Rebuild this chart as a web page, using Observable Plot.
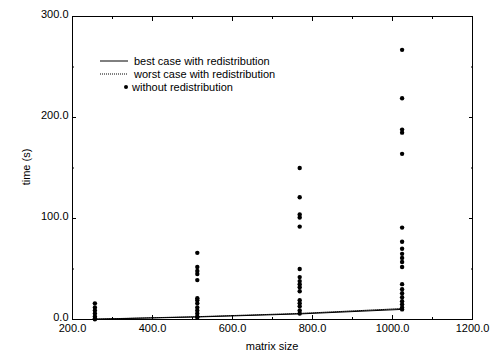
<!DOCTYPE html>
<html><head><meta charset="utf-8">
<script src="https://cdn.jsdelivr.net/npm/d3@7"></script>
<script src="https://cdn.jsdelivr.net/npm/@observablehq/plot@0.6"></script>
<style>body{margin:0;background:#fff}#c{position:relative;width:490px;height:354px}</style>
</head><body><div id="c"></div>
<script>
const sizes = [256, 512, 768, 1024];
const bestCase = [0.3, 2.5, 5.5, 10];
const worstCase = [0.4, 2.8, 6, 10.8];
const without256 = [16, 12, 9, 6, 3, 1, 0.3];
const without512 = [66, 52, 48, 45, 39, 21, 19, 16, 12, 9, 6, 3, 2];
const without768 = [150, 121, 104, 101, 92, 50, 42, 38, 35, 32, 28, 19, 16, 13, 9, 6];
const without1024 = [267, 219, 188, 185, 164, 91, 77, 70, 65, 61, 57, 52, 35, 30, 26, 22, 18, 15, 12, 10];
const xTicks = [200, 400, 600, 800, 1000, 1200];
const xMinor = [300, 500, 700, 900, 1100];
const yTicks = [0, 100, 200, 300];
const yMinor = [50, 150, 250];
const legendLabels = ["best case with redistribution", "worst case with redistribution", "without redistribution"];

const withoutAll = [without256, without512, without768, without1024];
const dots = sizes.flatMap((s, i) => withoutAll[i].map(v => ({x: s, y: v})));
const best = sizes.map((s, i) => ({x: s, y: bestCase[i]}));
const worst = sizes.map((s, i) => ({x: s, y: worstCase[i]}));
const fmt = d3.format(".1f");
const font = "Liberation Sans, Arial, sans-serif";

const plot = Plot.plot({
  width: 490, height: 354,
  marginLeft: 72, marginRight: 18, marginTop: 16, marginBottom: 35,
  style: {fontFamily: font, fontSize: "11px", background: "#fff", color: "#000"},
  x: {domain: [200, 1200], axis: null},
  y: {domain: [0, 300], axis: null},
  marks: [
    Plot.frame({stroke: "#000", strokeWidth: 1}),
    Plot.axisX({ticks: xTicks, tickSize: 0, tickPadding: 5, tickFormat: fmt, label: null, anchor: "bottom", fontSize: 11}),
    Plot.axisX({ticks: xTicks, tickSize: -4, text: null, label: null, anchor: "bottom"}),
    Plot.axisX({ticks: xMinor, tickSize: -2, text: null, label: null, anchor: "bottom"}),
    Plot.axisX({ticks: xTicks, tickSize: -4, text: null, label: null, anchor: "top"}),
    Plot.axisX({ticks: xMinor, tickSize: -2, text: null, label: null, anchor: "top"}),
    Plot.axisY({ticks: yTicks, tickSize: 0, tickPadding: 4, tickFormat: fmt, label: null, anchor: "left", fontSize: 11, dy: -2}),
    Plot.axisY({ticks: yTicks, tickSize: -4, text: null, label: null, anchor: "left"}),
    Plot.axisY({ticks: yMinor, tickSize: -2, text: null, label: null, anchor: "left"}),
    Plot.axisY({ticks: yTicks, tickSize: -4, text: null, label: null, anchor: "right"}),
    Plot.axisY({ticks: yMinor, tickSize: -2, text: null, label: null, anchor: "right"}),
    Plot.line(best, {x: "x", y: "y", stroke: "#000", strokeWidth: 1}),
    Plot.line(worst, {x: "x", y: "y", stroke: "#000", strokeWidth: 1, strokeDasharray: "1,1"}),
    Plot.dot(dots, {x: "x", y: "y", r: 2.2, fill: "#000", stroke: "none"})
  ]
});
document.getElementById("c").appendChild(plot);

const svg = d3.select(plot);
svg.append("text").attr("x", 272).attr("y", 350).attr("text-anchor", "middle")
  .style("font-family", font).style("font-size", "11px").text("matrix size");
svg.append("text").attr("transform", "translate(30,167) rotate(-90)").attr("text-anchor", "middle")
  .style("font-family", font).style("font-size", "11px").text("time (s)");

const lg = svg.append("g").style("font-family", font).style("font-size", "11px").attr("text-anchor", "start");
const rows = [61, 74, 87];
lg.append("line").attr("x1", 100).attr("x2", 128).attr("y1", rows[0]).attr("y2", rows[0]).attr("stroke", "#000");
lg.append("line").attr("x1", 100).attr("x2", 128).attr("y1", rows[1]).attr("y2", rows[1]).attr("stroke", "#000").attr("stroke-dasharray", "1,1");
lg.append("circle").attr("cx", 126).attr("cy", rows[2]).attr("r", 2).attr("fill", "#000");
legendLabels.forEach((t, i) => {
  lg.append("text").attr("x", i === 2 ? 132 : 134).attr("y", rows[i]).attr("dy", "0.35em").attr("text-anchor", "start").text(t);
});
</script></body></html>
